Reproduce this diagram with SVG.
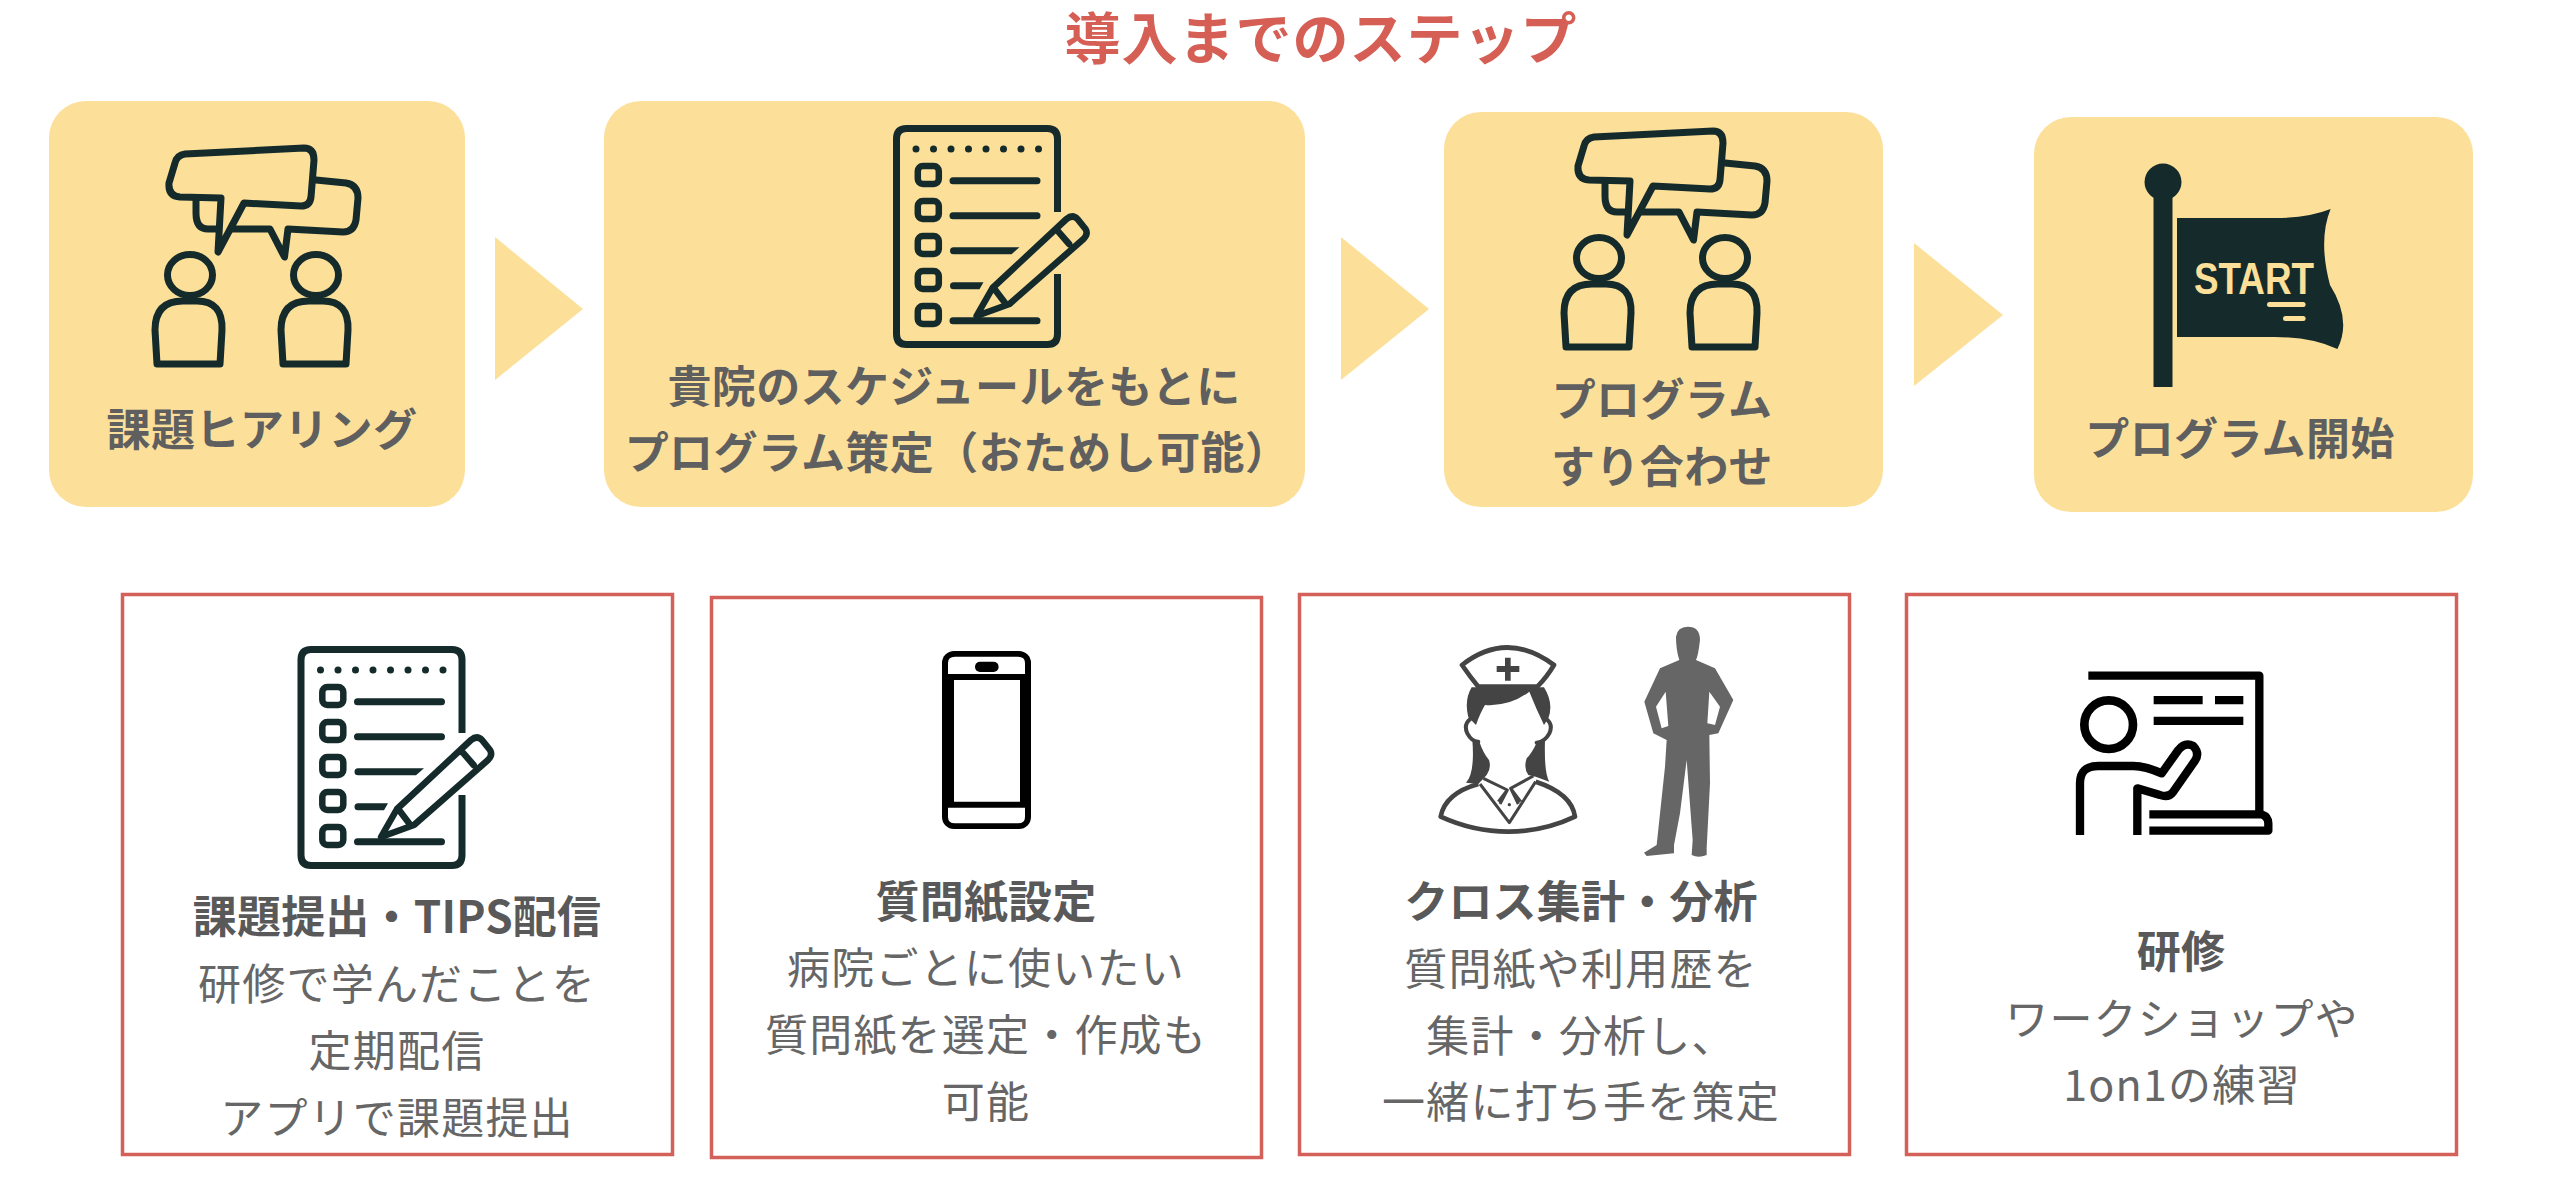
<svg xmlns="http://www.w3.org/2000/svg" xmlns:xlink="http://www.w3.org/1999/xlink" width="2560" height="1182" viewBox="0 0 2560 1182">
<style>
text{font-family:"Noto Sans CJK JP","Noto Sans",sans-serif;text-anchor:middle}
.t{font-size:56px;font-weight:700;fill:#d65f55;letter-spacing:1px}
.s{font-size:44px;font-weight:700;fill:#5f5f5f;letter-spacing:.4px}
.h{font-size:44px;font-weight:700;fill:#595959;letter-spacing:.2px}
.b{font-size:43px;font-weight:400;fill:#666;letter-spacing:1.2px}
.box{fill:#fce09a}
.card{fill:#fff;stroke:#d4605a;stroke-width:3.5}
.arr{fill:#fce09a}
.ic{fill:none;stroke:#152b2b;stroke-width:7;stroke-linejoin:round;stroke-linecap:round}
.d{fill:#152b2b}
</style>
<defs>
<g id="chat">
<path class="ic" d="M185,154 L304,148 Q314,148 314,160 L311,197 Q310,206 301,206 L244,203 L218,252 L221,198 L180,197 Q168,196 169,183 L175,163 Q177,155 185,154Z"/>
<path class="ic" d="M316,180 L346,183 Q358,185 358,198 L356,220 Q354,232 343,232 L288,229 L284.5,257 L270,229 L232,229 M216,229 H208 Q196,229 196,213 V200"/>
<ellipse class="ic" cx="190" cy="275" rx="22.5" ry="20.5"/>
<path class="ic" d="M157,364 L155,330 Q155,301 183,301 H197 Q223,301 222,330 L220,364Z"/>
<ellipse class="ic" cx="316" cy="275" rx="22.5" ry="20.5"/>
<path class="ic" d="M283,364 L281,330 Q281,301 309,301 H323 Q349,301 348,330 L346,364Z"/>
</g>
<g id="list">
<path class="ic" style="stroke-width:7;stroke-linecap:butt" d="M462,733 V660 Q462,649.5 452,649.5 H311 Q301,649.5 301,660 V855 Q301,865.5 311,865.5 H452 Q462,865.5 462,855 V795"/>
<g class="d"><circle cx="320.5" cy="670" r="3.5"/><circle cx="338" cy="670" r="3.5"/><circle cx="355.5" cy="670" r="3.5"/><circle cx="373" cy="670" r="3.5"/><circle cx="390.5" cy="670" r="3.5"/><circle cx="408" cy="670" r="3.5"/><circle cx="425.5" cy="670" r="3.5"/><circle cx="443" cy="670" r="3.5"/></g>
<g class="ic" style="stroke-width:6.5"><rect x="322.3" y="687" width="21" height="18" rx="5"/><rect x="322.3" y="722" width="21" height="18" rx="5"/><rect x="322.3" y="757" width="21" height="18" rx="5"/><rect x="322.3" y="792" width="21" height="18" rx="5"/><rect x="322.3" y="827" width="21" height="18" rx="5"/></g>
<g class="ic" style="stroke-width:7"><path d="M357.5,701.7H441.5M357.5,736.7H441.5M357.5,841.7H441.5"/></g>
<path class="d" d="M358 768.2H424L416 775.2H358A3.5 3.5 0 0 1 358 768.2ZM358 803.2H388L384 810.2H358A3.5 3.5 0 0 1 358 803.2Z"/>
<path class="ic" style="stroke-width:6.5" d="M397,809 L471,740 Q477,735 482,740 L490,750 Q493,755 488,760 L414,825 L381,837Z M462,751.7 L473.6,765 M399,810 L410.4,825"/>
</g>
</defs>
<g id="title"><text class="t" x="1321" y="59">導入までのステップ</text></g>
<g id="connectors">
<polygon class="arr" points="495,237 583,309 495,380"/>
<polygon class="arr" points="1341,237 1429,309 1341,380"/>
<polygon class="arr" points="1914,243 2003,315 1914,386"/>
</g>
<g id="step1">
<rect class="box" x="49" y="101" width="416" height="406" rx="37"/>
<use xlink:href="#chat" href="#chat"/>
<text class="s" x="262" y="446">課題ヒアリング</text>
</g>
<g id="step2">
<rect class="box" x="604" y="101" width="701" height="406" rx="37"/>
<use xlink:href="#list" href="#list" transform="translate(595.5,-521)"/>
<text class="s" x="954" y="403">貴院のスケジュールをもとに</text>
<text class="s" x="957" y="469">プログラム策定（おためし可能）</text>
</g>
<g id="step3">
<rect class="box" x="1444" y="112" width="439" height="395" rx="37"/>
<use xlink:href="#chat" href="#chat" transform="translate(1409,-17)"/>
<text class="s" x="1662" y="416">プログラム</text>
<text class="s" x="1662" y="483">すり合わせ</text>
</g>
<g id="step4">
<rect class="box" x="2034" y="117" width="439" height="395" rx="37"/>
<circle class="d" cx="2163" cy="182" r="18.5"/>
<rect class="d" x="2153.5" y="190" width="19" height="197"/>
<path class="d" d="M2177,218 H2275 Q2308,218 2330.6,209 Q2318,240 2330,285 Q2352,320 2337.4,349 Q2312,337 2275,337 H2177Z"/>
<text x="2254" y="294" style="font-family:'Liberation Sans',sans-serif;font-size:44px;font-weight:700;fill:#fce09a" textLength="120" lengthAdjust="spacingAndGlyphs">START</text>
<rect class="box" x="2267" y="302" width="38.6" height="5" rx="2.5"/>
<rect class="box" x="2283" y="316" width="22.6" height="5" rx="2.5"/>
<text class="s" x="2240" y="455">プログラム開始</text>
</g>
<g id="card1">
<rect class="card" x="122.5" y="594.5" width="550" height="560"/>
<use xlink:href="#list" href="#list"/>
<text class="h" x="397" y="933">課題提出・TIPS配信</text>
<text class="b" x="397" y="1000">研修で学んだことを</text>
<text class="b" x="397" y="1067">定期配信</text>
<text class="b" x="397" y="1134">アプリで課題提出</text>
</g>
<g id="card2">
<rect class="card" x="711.5" y="597.5" width="550" height="560"/>
<rect x="942" y="651" width="89" height="178" rx="12" fill="#000"/>
<path fill="#fff" d="M948,674 V663 Q948,656.7 955,656.7 H1018 Q1025,656.7 1025,663 V674Z M954,680 H1020 V801.7 H954Z M948,807.7 H1025 V817 Q1025,823.3 1018,823.3 H955 Q948,823.3 948,817Z"/>
<rect x="975" y="661.7" width="23.6" height="10.3" rx="5" fill="#000"/>
<text class="h" x="986" y="918">質問紙設定</text>
<text class="b" x="986" y="984">病院ごとに使いたい</text>
<text class="b" x="986" y="1051">質問紙を選定・作成も</text>
<text class="b" x="986" y="1118">可能</text>
</g>
<g id="card3">
<rect class="card" x="1299.5" y="594.5" width="550" height="560"/>
<g transform="translate(1390,600) scale(.33333)">
<path fill="none" stroke="#444" stroke-width="14" stroke-linejoin="round" d="M216,195 Q350,90 492,195 Q470,232 442,260 H265 Q240,230 216,195Z"/>
<path fill="#444" d="M345,173H362V198H388V216H362V242H345V216H320V198H345Z"/>
<path fill="#444" d="M245,262 H462 Q492,310 475,355 L462,375 Q440,330 418,275 Q360,320 285,315 Q270,340 258,375 L235,352 Q222,300 245,262Z"/>
<path fill="#444" d="M247,420 L268,425 Q280,460 297,480 Q305,505 290,525 L265,552 L228,548 Q255,520 247,420Z M465,420 L440,428 Q425,460 410,475 Q400,505 415,525 L437,530 L478,545 Q462,520 465,420Z"/>
<path fill="none" stroke="#444" stroke-width="12" stroke-linecap="round" d="M240,358 Q220,375 232,400 Q245,425 265,425 M470,358 Q490,375 478,400 Q465,425 440,428"/>
<path fill="none" stroke="#444" stroke-width="14" stroke-linejoin="round" d="M265,552 Q165,580 152,650 Q250,695 355,695 Q460,695 555,650 Q545,580 437,545"/>
<path fill="none" stroke="#444" stroke-width="9" stroke-linejoin="round" d="M270,552 L358,668 L437,545 M280,535 L352,570 L325,605 M430,528 L362,565 L392,605 M352,570 L330,612 M362,565 L385,612"/>
<circle cx="358" cy="614" r="5" fill="#444"/>
<path fill="#666" fill-rule="evenodd" d="M893,80 Q930,80 930,120 Q925,165 918,180 L975,205 L1030,300 L985,400 L958,405 L960,550 L950,745 L950,765 Q925,775 905,765 L908,720 L890,480 L870,640 L852,735 L852,760 L770,768 L762,758 L800,735 L825,500 L830,420 L790,400 L763,305 L810,205 L868,180 Q858,150 858,110 Q862,80 893,80Z M827,275 L798,320 L815,385 L835,378Z M958,275 L990,320 L975,375 L952,370Z"/>
</g>
<text class="h" x="1581" y="918">クロス集計・分析</text>
<text class="b" x="1581" y="985">質問紙や利用歴を</text>
<text class="b" x="1581" y="1052">集計・分析し、</text>
<text class="b" x="1581" y="1118">一緒に打ち手を策定</text>
</g>
<g id="card4">
<rect class="card" x="1906.5" y="594.5" width="550" height="560"/>
<g transform="translate(2020,640) scale(.33333)">
<path fill="none" stroke="#000" stroke-width="25" stroke-linejoin="round" d="M205,107 H718 V515 M388,523 H725 Q745,530 745,550 V572 H388 M180,585 V430 Q180,378 235,378 H340 Q375,378 425,400 L475,330 Q495,305 520,318 Q540,340 525,362 L460,455 Q445,475 420,465 L352,445 V585"/>
<circle cx="266" cy="254" r="73" fill="none" stroke="#000" stroke-width="26"/>
<path fill="#000" d="M401,168H548V193H401ZM585,168H670V193H585ZM401,230H670V255H401Z"/>
</g>
<text class="h" x="2181" y="968">研修</text>
<text class="b" x="2182" y="1035">ワークショップや</text>
<text class="b" x="2182" y="1101">1on1の練習</text>
</g>
</svg>
